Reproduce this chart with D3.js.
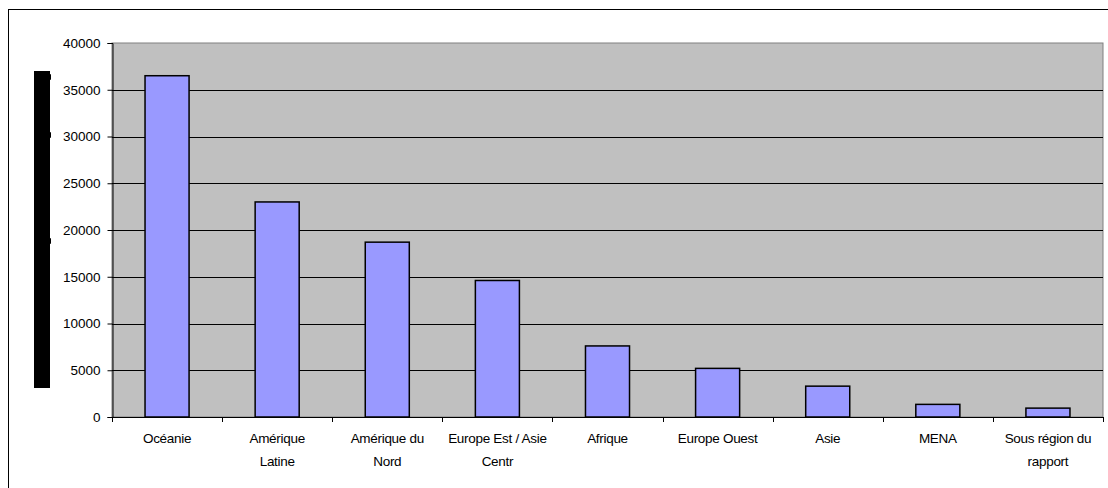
<!DOCTYPE html>
<html><head><meta charset="utf-8">
<script src="https://cdn.jsdelivr.net/npm/d3@7"></script>
<style>html,body{margin:0;padding:0;background:#fff;}svg{display:block;}</style>
</head><body>
<script>
const categories = ["Océanie","Amérique Latine","Amérique du Nord","Europe Est / Asie Centr","Afrique","Europe Ouest","Asie","MENA","Sous région du rapport"];
const labelLines = [["Océanie"],["Amérique","Latine"],["Amérique du","Nord"],["Europe Est / Asie","Centr"],["Afrique"],["Europe Ouest"],["Asie"],["MENA"],["Sous région du","rapport"]];
const values = [36500, 23000, 18700, 14600, 7600, 5200, 3300, 1350, 950];
const yTicks = [0,5000,10000,15000,20000,25000,30000,35000,40000];

const W=1108,H=488;
const svg=d3.select("body").append("svg").attr("width",W).attr("height",H);
const L=112,R=1103,T=43,B=417;
svg.append("rect").attr("x",8.5).attr("y",9.5).attr("width",1110).attr("height",490)
  .attr("fill","#fff").attr("stroke","#000").attr("stroke-width",1);

const x=d3.scaleBand().domain(categories).range([L,R]).paddingInner(0.6).paddingOuter(0.3);
const xb=d3.scaleBand().domain(categories).range([L,R]);
const y=d3.scaleLinear().domain([0,40000]).range([B,T]);

svg.append("rect").attr("x",L).attr("y",T).attr("width",R-L).attr("height",B-T)
  .attr("fill","#C0C0C0").attr("stroke","#808080").attr("stroke-width",1);

svg.append("g").selectAll("line").data(yTicks.filter(d=>d>0&&d<40000)).join("line")
  .attr("x1",L).attr("x2",R).attr("y1",d=>Math.round(y(d))+0.5).attr("y2",d=>Math.round(y(d))+0.5)
  .attr("stroke","#000").attr("stroke-width",1);

svg.append("g").selectAll("rect").data(values).join("rect")
  .attr("x",(d,i)=>x(categories[i])).attr("width",x.bandwidth())
  .attr("y",d=>y(d)).attr("height",d=>B-y(d))
  .attr("fill","#9999FF").attr("stroke","#000").attr("stroke-width",1.5);

// y axis
const ya=svg.append("g").attr("transform",`translate(${L+0.5},0)`)
  .call(d3.axisLeft(y).tickValues(yTicks).tickSize(5).tickPadding(7).tickFormat(d3.format("d")));
ya.select(".domain").attr("stroke","#000");
ya.selectAll("text").attr("font-family","Liberation Sans, Arial").attr("font-size","13.5px").attr("fill","#000");

// x axis
svg.append("line").attr("x1",L).attr("x2",R).attr("y1",B+0.5).attr("y2",B+0.5).attr("stroke","#000");
const bounds=categories.map(c=>xb(c)).concat([R]);
svg.append("g").selectAll("line").data(bounds).join("line")
  .attr("x1",d=>Math.round(d)+0.5).attr("x2",d=>Math.round(d)+0.5).attr("y1",B).attr("y2",B+5).attr("stroke","#000");
const lg=svg.append("g").selectAll("text").data(labelLines).join("text")
  .attr("font-family","Liberation Sans, Arial").attr("font-size","13.5px").attr("fill","#000")
  .attr("text-anchor","middle").attr("letter-spacing","-0.3px");
lg.each(function(lines,i){
  const cx=xb(categories[i])+xb.bandwidth()/2;
  d3.select(this).selectAll("tspan").data(lines).join("tspan")
    .attr("x",cx).attr("y",(d,j)=>443+j*22.5).text(d=>d);
});

// axis title rendered as a solid black block in the reference
const tg=svg.append("g");
tg.append("rect").attr("x",34).attr("y",71).attr("width",16).attr("height",317).attr("fill","#000");
[77,135,241].forEach(yy=>tg.append("rect").attr("x",49).attr("y",yy-3).attr("width",2).attr("height",6).attr("rx",1).attr("fill","#000"));
</script>
</body></html>
